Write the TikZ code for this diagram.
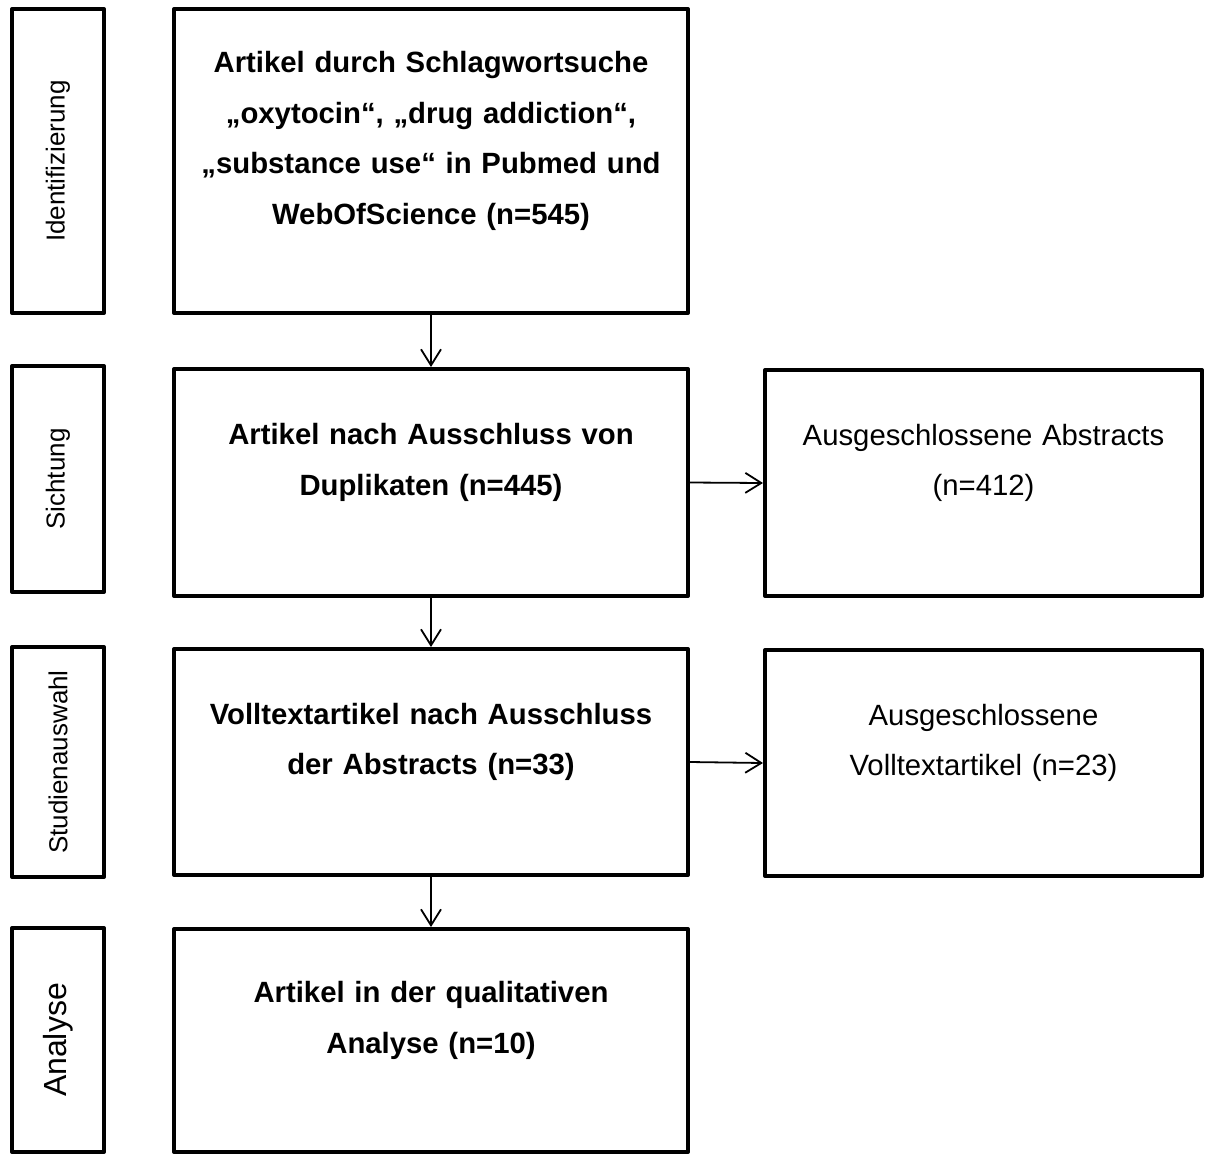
\documentclass[tikz,border=0pt]{standalone}
\usepackage{fontspec}
\setmainfont{Liberation Sans}
\usetikzlibrary{arrows.meta}
\tikzset{
  phasebox/.style={
    draw, line width=4pt, line join=round, rotate=90,
    minimum height=92pt, inner sep=0pt, font=\fontsize{26}{30}\selectfont
  },
  mainbox/.style={
    draw, line width=4pt, line join=round, align=center,
    text width=500pt, minimum width=514pt, inner sep=0pt,
    font=\bfseries\fontsize{29.3}{50.8}\selectfont,
    execute at end node={\par\vskip40pt\hrule height0pt depth0pt}
  },
  exclbox/.style={
    mainbox, text width=430pt, minimum width=437pt,
    font=\fontsize{29.3}{50.8}\selectfont
  },
  arr/.style={-{Straight Barb[length=16pt,width=20pt]}, line width=1.8pt}
}

\begin{document}
\begin{tikzpicture}[x=1pt,y=-1pt]
\useasboundingbox (0,0) rectangle (1206,1154);

\node[phasebox, minimum width=304pt] (ph1) at (58,161) {Identifizierung};
\node[phasebox, minimum width=226pt] (ph2) at (58,479) {Sichtung};
\node[phasebox, minimum width=230pt] (ph3) at (58,762) {Studienauswahl};
\node[phasebox, minimum width=224pt, font=\fontsize{32}{36}\selectfont] (ph4) at (58,1040) {Analyse};

\node[mainbox, minimum height=304pt] (art545) at (431,161)
  {Artikel durch Schlagwortsuche\\„oxytocin“, „drug addiction“,\\„substance use“ in Pubmed und\\WebOfScience (n=545)};
\node[mainbox, minimum height=227pt] (art445) at (431,482.5)
  {Artikel nach Ausschluss von\\Duplikaten (n=445)};
\node[mainbox, minimum height=226pt] (art33) at (431,762)
  {Volltextartikel nach Ausschluss\\der Abstracts (n=33)};
\node[mainbox, minimum height=223pt] (art10) at (431,1040.5)
  {Artikel in der qualitativen\\Analyse (n=10)};

\node[exclbox, minimum height=226pt] (ex412) at (983.5,483)
  {Ausgeschlossene Abstracts\\(n=412)};
\node[exclbox, minimum height=226pt] (ex23) at (983.5,763)
  {Ausgeschlossene\\Volltextartikel (n=23)};

\draw[arr] (art545) -- (art445);
\draw[arr] (art445) -- (art33);
\draw[arr] (art33) -- (art10);
\draw[arr] (art445.east) -- (ex412.west);
\draw[arr] (art33.east) -- (ex23.west);
\end{tikzpicture}
\end{document}
